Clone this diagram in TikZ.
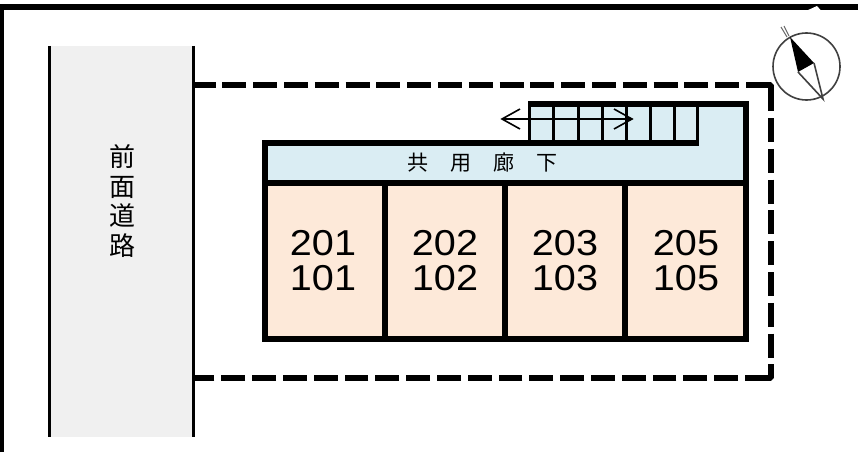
\documentclass[tikz,border=0pt]{standalone}
\usepackage{fontspec}
\setmainfont{Liberation Sans}
\newfontfamily\cjk{Noto Sans CJK JP}
\definecolor{roadgray}{HTML}{F0F0F0}
\definecolor{hallblue}{HTML}{DAEDF3}
\definecolor{unitpeach}{HTML}{FDE9D9}
\tikzset{
  wall/.style={line width=6pt,line cap=butt,line join=miter},
  tread/.style={line width=3pt},
  roomno/.style={font=\fontsize{36}{36}\selectfont,align=center,xscale=1.1,inner sep=0pt},
  roadch/.style={font=\cjk\fontsize{26}{26}\selectfont,inner sep=0pt},
  hallch/.style={font=\cjk\fontsize{21}{21}\selectfont,inner sep=0pt},
  plot/.style={line width=6pt,dash pattern=on 23.9pt off 6.9pt},
  plotcorner/.style={line width=6pt,line join=bevel},
  compassline/.style={draw=black!75,line width=1.6pt}
}
\begin{document}
\begin{tikzpicture}[x=1pt,y=-1pt]
\useasboundingbox (0,0) rectangle (858,452);
\fill[white] (0,0) rectangle (858,452);
% frame
\draw[line width=4.5pt] (2,452) -- (2,7);
\draw[line width=6pt] (0,7) -- (858,7);
% road
\fill[roadgray] (48,46) rectangle (194,437);
\coordinate (rl1) at (49.5,46); \coordinate (rl2) at (49.5,437);
\coordinate (rr1) at (193,46); \coordinate (rr2) at (193,437);
\draw[line width=3pt] (rl1) -- (rl2);
\draw[line width=3pt] (rr1) -- (rr2);
\node[roadch] (r1) at (122,157) {前};
\node[roadch] (r2) at (122,187) {面};
\node[roadch] (r3) at (122,216) {道};
\node[roadch] (r4) at (122,246) {路};
% plot boundary
\draw[plot,dash phase=1.4pt] (193,85) -- (740,85);
\draw[plotcorner] (746,85) -- (770.5,85) -- (770.5,111);
\draw[plot] (770.5,118) -- (770.5,358);
\draw[plotcorner] (770.5,364) -- (770.5,378) -- (745,378);
\draw[plot] (738,378) -- (193,378);
% building fills
\fill[hallblue] (265,144) -- (531,144) -- (531,104) -- (746,104) -- (746,183) -- (265,183) -- cycle;
\fill[unitpeach] (265,183) rectangle (746,339);
% stair treads
\foreach \x in {553,578,602,626,650,674,697.5}
  \draw[tread] (\x,104) -- (\x,142);
% walls
\draw[wall] (265,183) -- (265,143) -- (699,143);
\draw[line width=3.4pt] (529.5,104) -- (529.5,142);
\draw[wall] (528,104) -- (746,104) -- (746,183);
\draw[wall] (265,183) -- (748,183);
\draw[wall] (265,183) -- (265,339) -- (746,339) -- (746,183);
\draw[wall] (385,183) -- (385,339);
\draw[wall] (505,183) -- (505,339);
\draw[wall] (625,183) -- (625,339);
% hall text
\node[hallch] (h1) at (418,163) {共};
\node[hallch] (h2) at (461,163) {用};
\node[hallch] (h3) at (504,163) {廊};
\node[hallch] (h4) at (547,163) {下};
% rooms
\node[roomno] (u1) at (323,261) {201\\[-1pt]101};
\node[roomno] (u2) at (445,261) {202\\[-1pt]102};
\node[roomno] (u3) at (565,261) {203\\[-1pt]103};
\node[roomno] (u4) at (686,261) {205\\[-1pt]105};
% arrow
\coordinate (al) at (502,119); \coordinate (ar) at (632,119);
\draw[line width=1.6pt] (al) -- (ar);
\draw[line width=1.6pt] (520,109) -- (al) -- (520,129);
\draw[line width=1.6pt] (614,109) -- (ar) -- (614,129);
% compass
\fill[white] (807,10.5) -- (817,6) -- (821,10.5) -- cycle;
\draw[compassline] (806.5,66.5) circle (33.5);
\fill[black] (790,37) -- (814,63) -- (798,72) -- cycle;
\draw[compassline] (814,63) -- (823,99) -- (798,72);
\draw[black!60,line width=1pt] (789,36) -- (784,26);
\draw[black!60,line width=1pt] (787,37) -- (781,27);
\end{tikzpicture}
\end{document}
